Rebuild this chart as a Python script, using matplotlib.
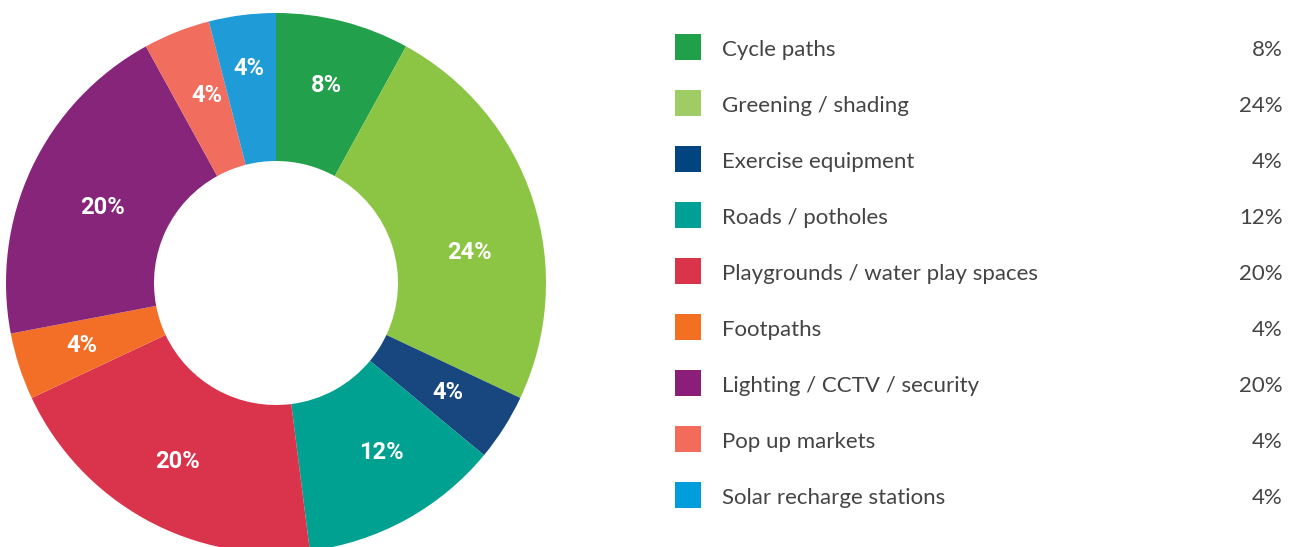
import numpy as np
import matplotlib
matplotlib.use("Agg")
import matplotlib.pyplot as plt
from matplotlib.patches import Rectangle

categories = ["Cycle paths", "Greening / shading", "Exercise equipment",
              "Roads / potholes", "Playgrounds / water play spaces", "Footpaths",
              "Lighting / CCTV / security", "Pop up markets", "Solar recharge stations"]
values = [8, 24, 4, 12, 20, 4, 20, 4, 4]
pie_colors = ["#22a04b", "#8bc543", "#17477e", "#00a191", "#d9344b",
              "#f36f27", "#86257a", "#f16d5d", "#1f9bd8"]
legend_colors = ["#21a04a", "#a0cc66", "#00457f", "#00a096", "#d9344a",
                 "#f36f21", "#8a1e78", "#f26b5b", "#009ddc"]

# label placement tweaks (angle shift in degrees clockwise, radius fraction)
label_shift = [0, 9, 0, -3, 0, 0, -1.5, 1.5, 0]
label_rad = [0.755, 0.725, 0.755, 0.74, 0.755, 0.755, 0.70, 0.74, 0.80]

W, H = 1298, 547
fig = plt.figure(figsize=(W / 100, H / 100), dpi=100)
ax = fig.add_axes([0, 0, 1, 1])

R = 270
cx, cy = 276, H - 283
wedges, _ = ax.pie(
    values, colors=pie_colors, startangle=90, counterclock=False,
    radius=R, center=(cx, cy), frame=True,
    wedgeprops=dict(width=148, edgecolor="none", linewidth=0))
ax.set_xlim(0, W)
ax.set_ylim(0, H)
ax.set_aspect("equal")
ax.axis("off")

total = sum(values)
for w, v, sh, rf in zip(wedges, values, label_shift, label_rad):
    mid = np.deg2rad((w.theta1 + w.theta2) / 2 - sh)
    ax.text(cx + rf * R * np.cos(mid), cy + rf * R * np.sin(mid),
            f"{100 * v / total:.0f}%", color="white", fontsize=17,
            fontweight="bold", family="Roboto", ha="center", va="center")

# legend
y0 = H - 47
step = 56
for i, (cat, val, col) in enumerate(zip(categories, values, legend_colors)):
    y = y0 - i * step
    ax.add_patch(Rectangle((675, y - 13), 26, 26, facecolor=col, edgecolor="none"))
    ax.text(722, y - 9, cat, fontsize=16, color="#444444", va="baseline",
            ha="left", family="Lato")
    ax.text(1283, y - 9, f"{val}%", fontsize=16, color="#444444",
            va="baseline", ha="right", family="Lato")

fig.savefig("out.png", dpi=100)
